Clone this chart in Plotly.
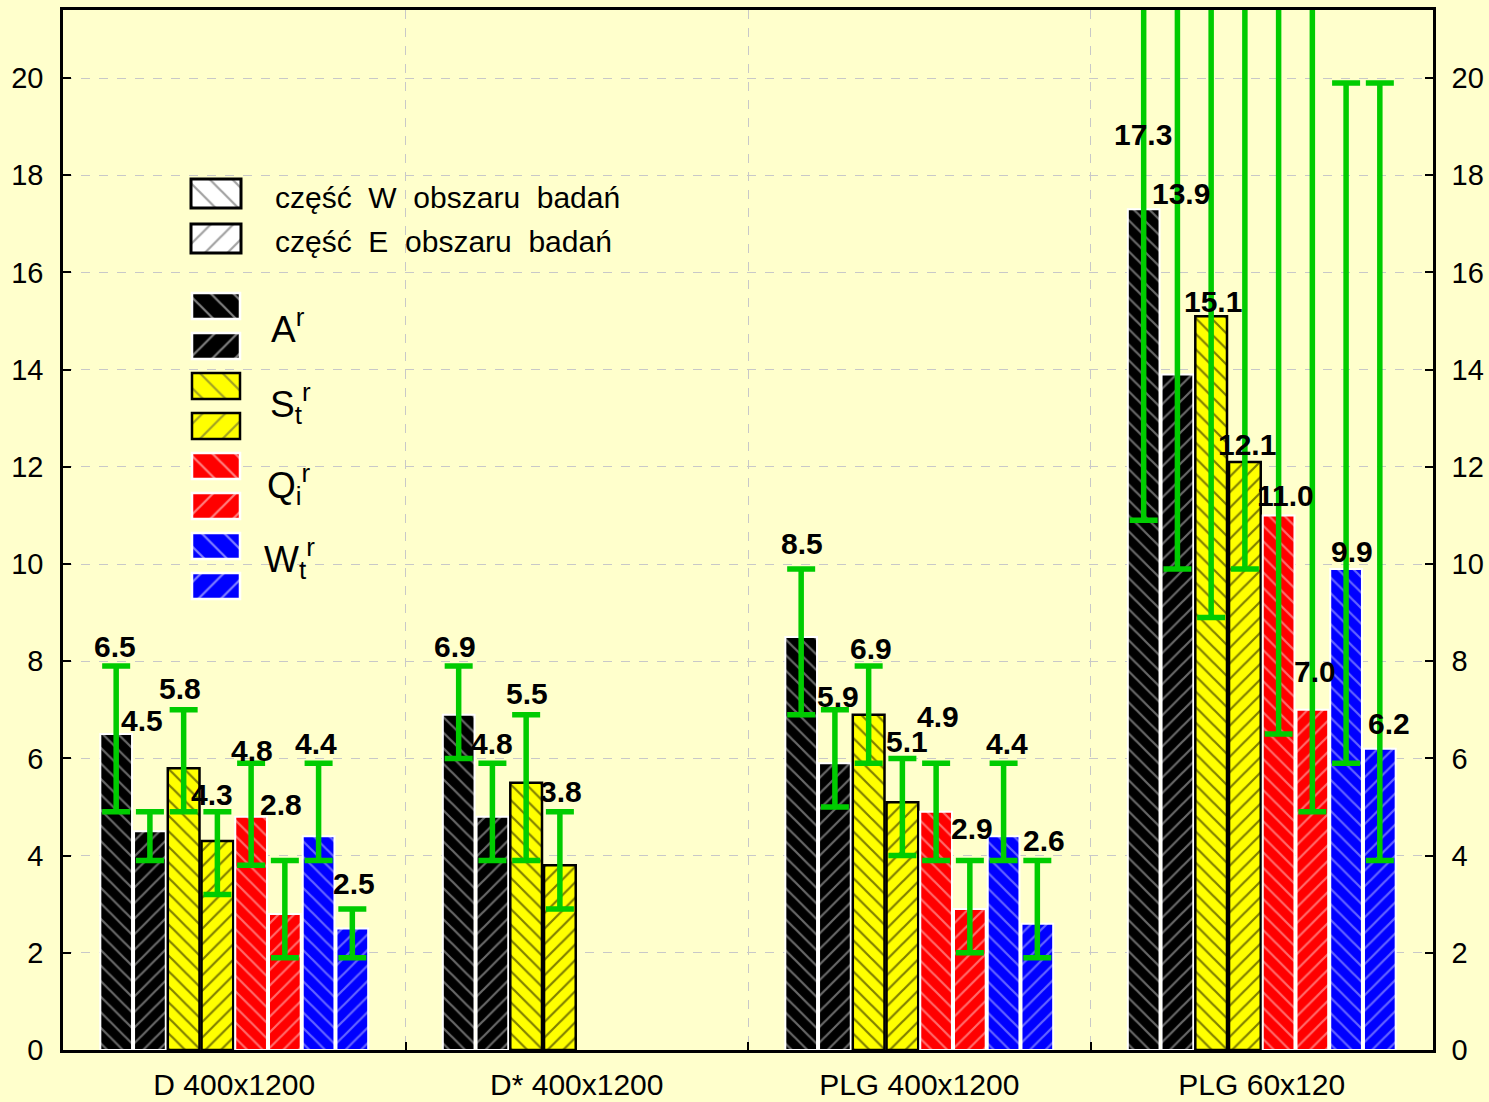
import plotly.graph_objects as go

# ---- data -------------------------------------------------------------
categories = ["D 400x1200", "D* 400x1200", "PLG 400x1200", "PLG 60x120"]

# mean values, W and E part of the study area
A_W = [6.5, 6.9, 8.5, 17.3]
A_E = [4.5, 4.8, 5.9, 13.9]
S_W = [5.8, 5.5, 6.9, 15.1]
S_E = [4.3, 3.8, 5.1, 12.1]
Q_W = [4.8, None, 4.9, 11.0]
Q_E = [2.8, None, 2.9, 7.0]
W_W = [4.4, None, 4.4, 9.9]
W_E = [2.5, None, 2.6, 6.2]

# lower / upper ends of the whiskers
A_W_low = [4.9, 6.0, 6.9, 10.9]
A_W_high = [7.9, 7.9, 9.9, 23.0]
A_E_low = [3.9, 3.9, 5.0, 9.9]
A_E_high = [4.9, 5.9, 7.0, 23.0]
S_W_low = [4.9, 3.9, 5.9, 8.9]
S_W_high = [7.0, 6.9, 7.9, 23.0]
S_E_low = [3.2, 2.9, 4.0, 9.9]
S_E_high = [4.9, 4.9, 6.0, 23.0]
Q_W_low = [3.8, None, 3.9, 6.5]
Q_W_high = [5.9, None, 5.9, 23.0]
Q_E_low = [1.9, None, 2.0, 4.9]
Q_E_high = [3.9, None, 3.9, 23.0]
W_W_low = [3.9, None, 3.9, 5.9]
W_W_high = [5.9, None, 5.9, 19.9]
W_E_low = [1.9, None, 1.9, 3.9]
W_E_high = [2.9, None, 3.9, 19.9]

series = [
    ("A_W", A_W, A_W_low, A_W_high),
    ("A_E", A_E, A_E_low, A_E_high),
    ("S_W", S_W, S_W_low, S_W_high),
    ("S_E", S_E, S_E_low, S_E_high),
    ("Q_W", Q_W, Q_W_low, Q_W_high),
    ("Q_E", Q_E, Q_E_low, Q_E_high),
    ("W_W", W_W, W_W_low, W_W_high),
    ("W_E", W_E, W_E_low, W_E_high),
]

# ---- styling ----------------------------------------------------------
BG = "#FFFFCC"
GREEN = "#00CC00"
GRID = "#C8C8C8"
FONT = "Liberation Sans"
NB = "\u00a0"

fills = {"A": ("#000000", "#D0D0D0", "white", 2),
         "S": ("#FFFF00", "#000000", "black", 2.5),
         "Q": ("#FF0000", "#FFD6D6", "white", 2),
         "W": ("#0000FF", "#C8C8FF", "white", 2)}
hatch = {"W": "\\", "E": "/"}

# placement of the value labels: lift above the bar (axis units) and
# horizontal nudge (px)
label_lift = {
    "A_W": [1.81, 1.41, 1.93, 1.53],
    "A_E": [2.29, 1.50, 1.38, 3.73],
    "S_W": [1.63, 1.83, 1.37, 0.31],
    "S_E": [0.95, 1.51, 1.24, 0.35],
    "Q_W": [1.37, 0, 1.97, 0.40],
    "Q_E": [2.26, 0, 1.65, 0.78],
    "W_W": [1.90, 0, 1.90, 0.35],
    "W_E": [0.93, 0, 1.72, 0.51],
}
label_dx = {
    "A_W": [-1, -4, 1, -1],
    "A_E": [-8, 0, 3, 4],
    "S_W": [-4, 1, 2, 2],
    "S_E": [-5, 1, 5, 2],
    "Q_W": [1, 0, 2, 7],
    "Q_E": [-4, 0, 2, 3],
    "W_W": [-3, 0, 3, 6],
    "W_E": [2, 0, 7, 9],
}

BARGAP = 0.212
n = len(series)
slot = (1 - BARGAP) / n
xs = list(range(len(categories)))

fig = go.Figure()
annotations = []

for k, (name, vals, lows, highs) in enumerate(series):
    var, part = name.split("_")
    color, fg, edge, ew = fills[var]
    plus = [None if v is None else h - v for v, h in zip(vals, highs)]
    minus = [None if v is None else v - l for v, l in zip(vals, lows)]
    fig.add_trace(go.Bar(
        x=xs, y=vals, name=name, showlegend=False,
        marker=dict(color=color, line=dict(color=edge, width=ew),
                    pattern=dict(shape=hatch[part], fgcolor=fg, bgcolor=color,
                                 size=11, solidity=0.2)),
        error_y=dict(type="data", symmetric=False, array=plus, arrayminus=minus,
                     color=GREEN, thickness=5.5, width=14),
        hoverinfo="skip",
    ))
    for c, v in enumerate(vals):
        if v is None:
            continue
        annotations.append(dict(
            x=c + (k - (n - 1) / 2) * slot, y=v + label_lift[name][c],
            xref="x", yref="y", text=f"{v:.1f}", showarrow=False,
            xanchor="center", yanchor="middle", xshift=label_dx[name][c],
            font=dict(family=FONT, size=30, color="black", weight="bold"),
        ))

# right-hand value axis carrier
fig.add_trace(go.Scatter(x=[0], y=[0], yaxis="y3", mode="markers",
                         marker=dict(opacity=0), showlegend=False,
                         hoverinfo="skip"))

# ---- legend, drawn in a pixel-scaled overlay ---------------------------
PLOT_W, PLOT_H = 1370, 1040
sw_x, sw_w = 153, 48
head_tops, head_h = [169, 214], 29
sw_top0, sw_pitch, sw_h = 283, 40, 26

lg_base, lg_h, lg_w, lg_col, lg_fg, lg_shape, lg_line, lg_lw = [], [], [], [], [], [], [], []
for t in head_tops:
    lg_base.append(t); lg_h.append(head_h); lg_w.append(50)
    lg_col.append("white"); lg_fg.append("black")
    lg_line.append("black"); lg_lw.append(3)
lg_shape += ["\\", "/"]
for i, (name, *_rest) in enumerate(series):
    var, part = name.split("_")
    color, fg, edge, ew = fills[var]
    lg_base.append(sw_top0 + i * sw_pitch); lg_h.append(sw_h); lg_w.append(sw_w)
    lg_col.append(color); lg_fg.append(fg); lg_shape.append(hatch[part])
    lg_line.append(edge); lg_lw.append(ew if var == "S" else 2.5)

fig.add_trace(go.Bar(
    x=[sw_x] * len(lg_base), y=lg_h, base=lg_base, width=lg_w,
    xaxis="x2", yaxis="y2", showlegend=False, hoverinfo="skip",
    marker=dict(color=lg_col, line=dict(color=lg_line, width=lg_lw),
                pattern=dict(shape=lg_shape, fgcolor=lg_fg, bgcolor=lg_col,
                             size=16, solidity=0.14)),
))

legend_text = [
    (210, 187, f"część{NB} W{NB} obszaru{NB} badań", 30),
    (210, 231, f"część{NB} E{NB} obszaru{NB} badań", 30),
    (206, 316, "A<sup>r</sup>", 37),
    (205, 393, "S<sub>t</sub><sup>r</sup>", 37),
    (202, 474, "Q<sub>i</sub><sup>r</sup>", 37),
    (199, 548, "W<sub>t</sub><sup>r</sup>", 37),
]
for x, y, txt, sz in legend_text:
    annotations.append(dict(x=x, y=y, xref="x2", yref="y2", text=txt,
                            showarrow=False, xanchor="left", yanchor="middle",
                            font=dict(family=FONT, size=sz, color="black")))

# ---- axes ---------------------------------------------------------------
tick_font = dict(family=FONT, size=29, color="black")
fig.update_layout(
    width=1489, height=1102, autosize=False,
    margin=dict(l=63, r=56, t=10, b=52),
    paper_bgcolor=BG, plot_bgcolor=BG,
    barmode="group", bargap=BARGAP, bargroupgap=0.06,
    showlegend=False,
    annotations=annotations,
    xaxis=dict(range=[-0.5, 3.5], tickmode="array", tickvals=xs,
               ticktext=categories, ticks="", showgrid=False, zeroline=False,
               showline=True, linecolor="black", linewidth=2.5, mirror=True,
               tickfont=dict(family=FONT, size=30, color="black"),
               ticklabelstandoff=6, automargin=False,
               minor=dict(tickmode="array", tickvals=[0.5, 1.5, 2.5],
                          ticks="inside", ticklen=8, tickwidth=2,
                          tickcolor="black", showgrid=True, gridcolor=GRID,
                          griddash="dash", gridwidth=1)),
    yaxis=dict(range=[0, 21.4], tick0=0, dtick=2, ticks="inside", ticklen=8,
               tickwidth=2, tickcolor="black", showgrid=True, gridcolor=GRID,
               griddash="dash", gridwidth=1, zeroline=False, showline=True,
               linecolor="black", linewidth=2.5, mirror=True,
               tickfont=tick_font, ticklabelstandoff=11, automargin=False),
    yaxis3=dict(range=[0, 21.4], tick0=0, dtick=2, overlaying="y",
                side="right", ticks="inside", ticklen=8, tickwidth=2,
                tickcolor="black", showgrid=False, zeroline=False,
                showline=True, linecolor="black", linewidth=2.5,
                tickfont=tick_font, ticklabelstandoff=10, automargin=False),
    xaxis2=dict(range=[0, PLOT_W], overlaying="x", anchor="y2", visible=False),
    yaxis2=dict(range=[PLOT_H, 0], overlaying="y", anchor="x2", visible=False),
)

fig.write_html("out.html")
